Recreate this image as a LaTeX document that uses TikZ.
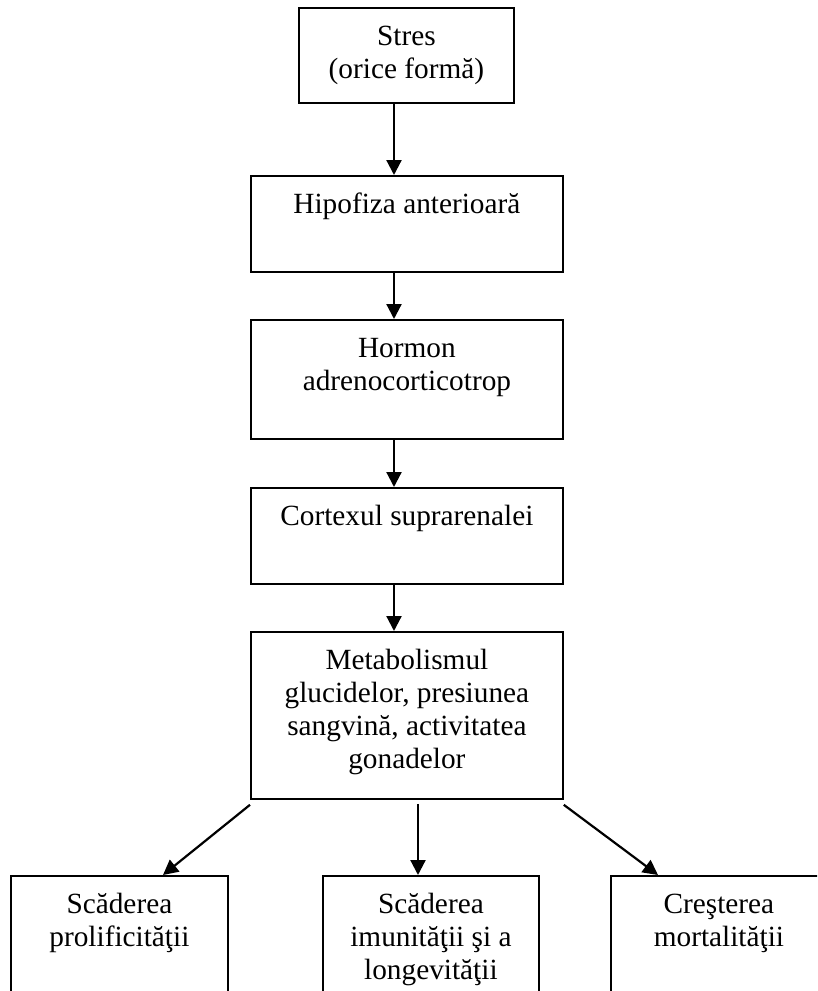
\documentclass[tikz,border=0pt]{standalone}
\usepackage{fontspec}
\setmainfont{Liberation Serif}
\usetikzlibrary{arrows.meta,calc}
% strut that fixes the height of a label's first line
\newcommand\firstline{\rule{0pt}{25pt}}
\tikzset{
  frame/.style={draw, line width=1.8pt, rectangle, inner sep=0pt, anchor=north west},
  label/.style={inner sep=0pt, align=center, anchor=north,
    font=\fontsize{29.3}{33}\selectfont},
  arr/.style={line width=2.2pt, -{Triangle[width=15pt,length=15pt]}},
}
\begin{document}
\begin{tikzpicture}[x=1pt,y=-1pt]
\useasboundingbox (0,0) rectangle (817,991);
\clip (0,0) rectangle (817,991);

% chain of boxes down the middle
\node[frame, minimum width=215pt, minimum height=95pt]  (b1) at (298,7)   {};
\node[frame, minimum width=312pt, minimum height=96pt]  (b2) at (250,175) {};
\node[frame, minimum width=312pt, minimum height=119pt] (b3) at (250,319) {};
\node[frame, minimum width=312pt, minimum height=96pt]  (b4) at (250,487) {};
\node[frame, minimum width=312pt, minimum height=167pt] (b5) at (250,631) {};

% three outcome boxes, running off the lower edge
\node[frame, minimum width=217pt, minimum height=140pt] (e1) at (10,875)  {};
\node[frame, minimum width=216pt, minimum height=140pt] (e2) at (322,875) {};
\node[frame, minimum width=216pt, minimum height=140pt] (e3) at (610,875) {};

% labels
\node[label] (t1) at ([yshift=-13pt]b1.north) {\firstline Stres\\(orice formă)};
\node[label] (t2) at ([yshift=-13pt]b2.north) {\firstline Hipofiza anterioară};
\node[label] (t3) at ([yshift=-13pt]b3.north) {\firstline Hormon\\adrenocorticotrop};
\node[label] (t4) at ([yshift=-13pt]b4.north) {\firstline Cortexul suprarenalei};
\node[label] (t5) at ([yshift=-13pt]b5.north) {\firstline Metabolismul\\glucidelor, presiunea\\sangvină, activitatea\\gonadelor};
\node[label] (t6) at ([yshift=-13pt]e1.north) {\firstline Scăderea\\prolificităţii};
\node[label] (t7) at ([yshift=-13pt]e2.north) {\firstline Scăderea\\imunităţii şi a\\longevităţii};
\node[label] (t8) at ([yshift=-13pt]e3.north) {\firstline Creşterea\\mortalităţii};

% vertical line of the main arrows
\coordinate (ax) at (394,0);
\draw[arr] (b1.south -| ax) -- (b2.north -| ax);
\draw[arr] (b2.south -| ax) -- (b3.north -| ax);
\draw[arr] (b3.south -| ax) -- (b4.north -| ax);
\draw[arr] (b4.south -| ax) -- (b5.north -| ax);

% branches to the outcomes
\coordinate (mx) at (418,0);
\coordinate (lx) at (163,0);
\coordinate (rx) at (658,0);
\draw[arr] ([yshift=-4pt]b5.south -| mx) -- (e2.north -| mx);
\draw[arr] ([yshift=-5pt]b5.south west) -- (e1.north -| lx);
\draw[arr] ([yshift=-5pt]b5.south east) -- (e3.north -| rx);
\end{tikzpicture}
\end{document}
